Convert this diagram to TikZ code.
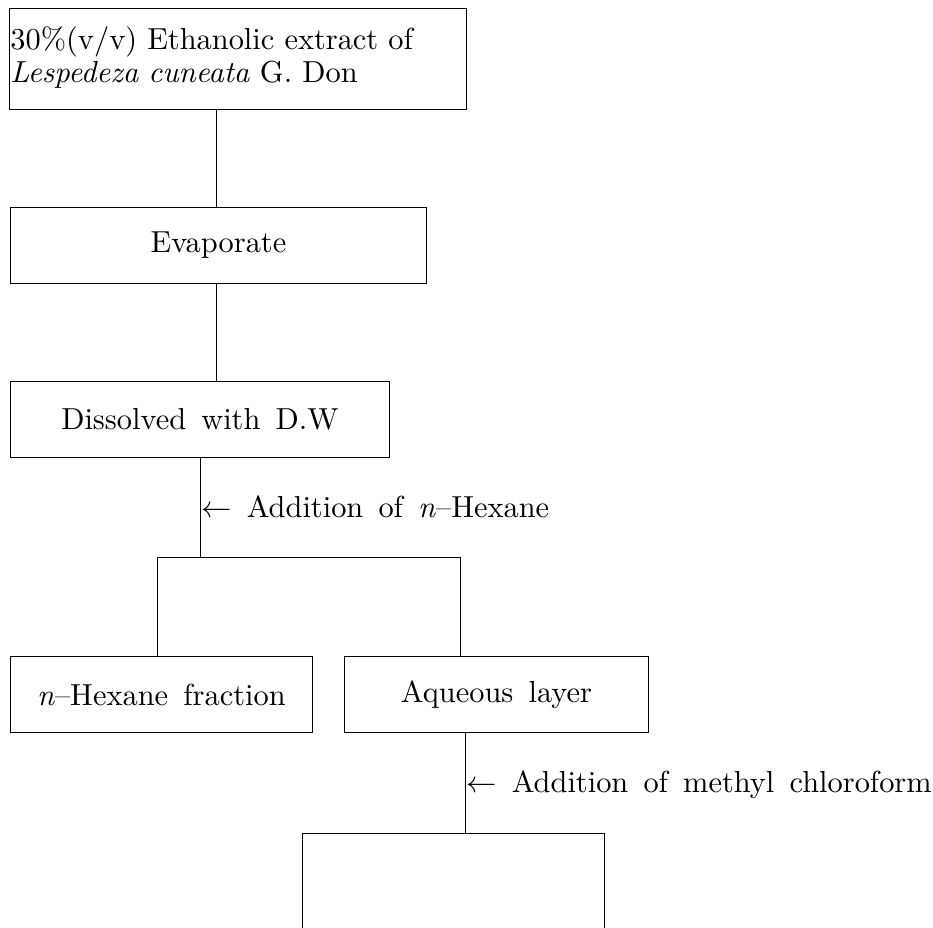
\RequirePackage{fix-cm}
\documentclass[tikz,border=0pt]{standalone}
\usepackage{fontspec}
\setmainfont{lmroman10-regular.otf}[ItalicFont=lmroman10-italic.otf, BoldFont=lmroman10-bold.otf, WordSpace=1.5]
\newcommand\flowfont{\fontsize{30.4}{33}\selectfont}
\tikzset{
  stepbox/.style={draw, line width=0.9pt, inner sep=0pt, anchor=north west, font=\flowfont},
  lbl/.style={inner sep=0pt, anchor=base west, font=\flowfont},
  conn/.style={line width=0.9pt}
}
\begin{document}
\begin{tikzpicture}[x=1pt,y=-1pt]
\useasboundingbox (0,0) rectangle (933,927);
\node[stepbox, minimum width=457pt, minimum height=101pt, text width=455pt, inner xsep=1pt, align=left] (b1) at (9,8)
  {\raisebox{4pt}{\begin{tabular}{@{}l@{}}30\%(v/v) Ethanolic extract of\\\textit{Lespedeza cuneata} G. Don\end{tabular}}};
\node[stepbox, minimum width=416pt, minimum height=76pt] (b2) at (10,207) {Evaporate};
\node[stepbox, minimum width=379pt, minimum height=76pt] (b3) at (10,381) {Dissolved with D.W};
\node[stepbox, minimum width=302pt, minimum height=76pt] (b4) at (10,656) {\textit{n}--Hexane fraction};
\node[stepbox, minimum width=304pt, minimum height=76pt] (b5) at (344,656) {Aqueous layer};
\coordinate (j1) at (216,0);
\coordinate (j2) at (200,557);
\coordinate (bl) at (157,557);
\coordinate (br) at (460,557);
\coordinate (j3) at (465,833);
\coordinate (cl) at (302,833);
\coordinate (cr) at (604,833);
\coordinate (dl) at (302,930);
\coordinate (dr) at (604,930);
\draw[conn] (b1.south -| j1) -- (b2.north -| j1);
\draw[conn] (b2.south -| j1) -- (b3.north -| j1);
\draw[conn] (b3.south -| j2) -- (j2);
\draw[conn] (b4.north -| bl) -- (bl) -- (br) -- (b5.north -| br);
\draw[conn] (b5.south -| j3) -- (j3);
\draw[conn] (dl) -- (cl) -- (cr) -- (dr);
\node[lbl] (l1) at (201,517) {$\leftarrow$ Addition of \textit{n}--Hexane};
\node[lbl] (l2) at (466,792) {$\leftarrow$ Addition of methyl chloroform};
\end{tikzpicture}
\end{document}
